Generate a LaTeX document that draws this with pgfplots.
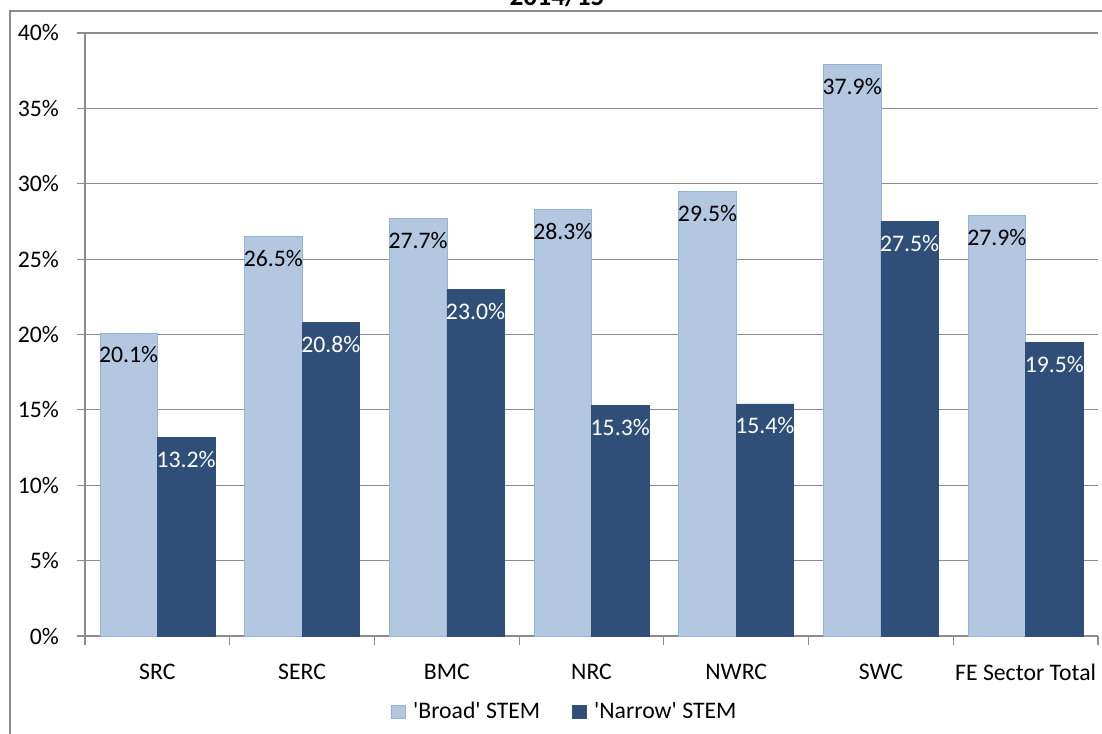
\documentclass[border=0pt]{standalone}
\usepackage{pgfplots}
\pgfplotsset{compat=1.18}
\usepackage{fontspec}
\setmainfont{Carlito}
\definecolor{broad}{HTML}{B4C7E1}
\definecolor{broadedge}{HTML}{95B3D7}
\definecolor{narrow}{HTML}{2F4F78}
\definecolor{gridc}{HTML}{8C8C8C}
\begin{document}
\fontsize{17.8}{21}\selectfont
\begin{tikzpicture}[x=1pt,y=1pt]
\path[use as bounding box, clip] (0,0) rectangle (826.5,549.75);
\draw[gridc, line width=0.8pt] (7.5,-20) -- (7.5,541.5) -- (850,541.5);
\node[anchor=base, font=\fontsize{20.5}{24}\selectfont\bfseries] at (417.75,545.25) {2014/15};
\begin{axis}[
  at={(63.75pt,72.75pt)}, anchor=south west,
  scale only axis, width=759.75pt, height=452.25pt,
  xmin=-0.5, xmax=6.5, ymin=0, ymax=40,
  axis lines*=left,
  axis line style={gridc, line width=0.8pt},
  ybar, bar width=0.397,
  xtick={0,1,2,3,4,5,6},
  xticklabels={SRC,SERC,BMC,NRC,NWRC,SWC,FE Sector Total},
  x tick style={draw=none},
  extra x ticks={-0.5,0.5,1.5,2.5,3.5,4.5,5.5,6.5},
  extra x tick labels={},
  extra x tick style={x tick style={draw=gridc, line width=0.8pt}, major tick length=7pt, tick align=outside, grid=none},
  xticklabel style={yshift=-9pt},
  ytick={0,5,...,40},
  yticklabel={\pgfmathprintnumber{\tick}\%},
  yticklabel style={xshift=-7.5pt},
  y tick style={gridc, line width=0.8pt},
  major tick length=6pt, tick align=outside,
  ymajorgrids, grid style={gridc, line width=0.8pt},
  /pgf/number format/assume math mode=true,
  tick label style={font=\fontsize{17.8}{21}\selectfont},
  nodes near coords={\pgfmathprintnumber[fixed,fixed zerofill,precision=1]{\pgfplotspointmeta}\%},
  every node near coord/.append style={anchor=center, yshift=-16.5pt, font=\fontsize{17.8}{21}\selectfont},
  legend columns=2,
  legend style={at={(rel axis cs:0.474,0)}, anchor=center, yshift=-57pt, draw=none, fill=none,
    font=\fontsize{17.8}{21}\selectfont,
    /tikz/every odd column/.append style={column sep=4pt},
    /tikz/every even column/.append style={column sep=22pt}},
  legend image code/.code={\draw[#1] (0pt,-5pt) rectangle (10pt,5pt);},
]
\addplot[fill=broad, draw=broadedge, bar shift=-0.1985, every node near coord/.append style={text=black}]
  coordinates {(0,20.1) (1,26.5) (2,27.7) (3,28.3) (4,29.5) (5,37.9) (6,27.9)};
\addplot[fill=narrow, draw=narrow, bar shift=0.1985, every node near coord/.append style={text=white}]
  coordinates {(0,13.2) (1,20.8) (2,23.0) (3,15.3) (4,15.4) (5,27.5) (6,19.5)};
\legend{\textquotesingle Broad\textquotesingle{} STEM, \textquotesingle Narrow\textquotesingle{} STEM}
\end{axis}
\end{tikzpicture}
\end{document}
